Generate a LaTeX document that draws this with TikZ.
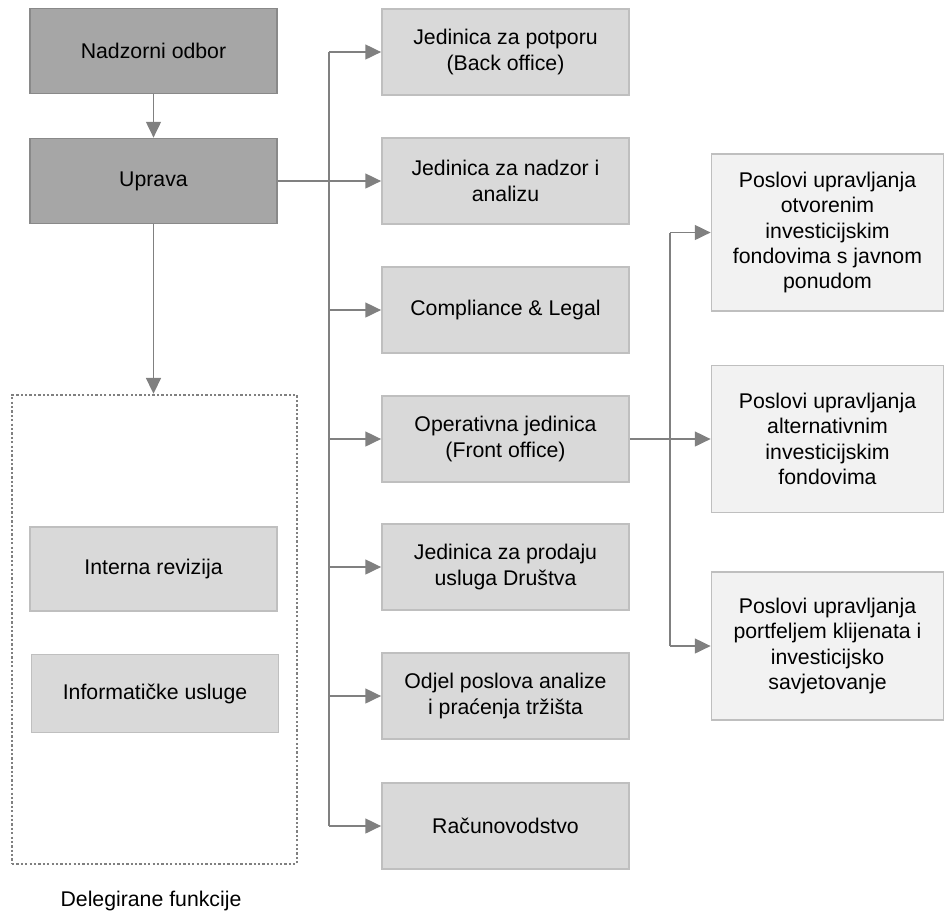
\documentclass[tikz,border=0pt]{standalone}
\usepackage{fontspec}
\setmainfont{Liberation Sans}
\usetikzlibrary{arrows.meta}
\definecolor{bossfill}{HTML}{A6A6A6}
\definecolor{bossline}{HTML}{898989}
\definecolor{unitfill}{HTML}{D9D9D9}
\definecolor{unitline}{HTML}{BFBFBF}
\definecolor{fundfill}{HTML}{F2F2F2}
\definecolor{arrowgray}{HTML}{808080}

\begin{document}
\begin{tikzpicture}[
	font=\fontsize{12.1}{14.4}\selectfont,
	boss/.style={draw=bossline,fill=bossfill,line width=1pt,rectangle,minimum width=4.94cm,minimum height=1.7cm},
	unit/.style={draw=unitline,fill=unitfill,line width=1pt,rectangle,align=center,minimum width=4.94cm,minimum height=1.72cm},
	fund/.style={draw=unitline,fill=fundfill,line width=1pt,rectangle,align=center,minimum width=4.64cm},
	link/.style={draw=arrowgray,line width=0.9pt,-{Triangle[length=9pt,width=8.5pt]}},
	trunk/.style={draw=arrowgray,line width=0.9pt}]
		\useasboundingbox (0,0) rectangle (18.9,-18.2);

		% board and management
		\node[boss] (nadzor) at (3.07,-1.02) {Nadzorni odbor};
		\node[boss] (uprava) at (3.07,-3.62) {Uprava};

		% delegated functions
		\node[draw=arrowgray,line width=1.4pt,dash pattern=on 1.3pt off 1.2pt,minimum width=5.7cm,minimum height=9.38cm] (delegirane) at (3.09,-12.59) {};
		\node[unit,minimum height=1.68cm] (revizija) at (3.07,-11.38) {Interna revizija};
		\node[unit,minimum height=1.56cm] (informatika) at (3.1,-13.87) {Informatičke usluge};
		\node[anchor=base] (delegtekst) at (3.02,-18.12) {Delegirane funkcije};

		% organisational units
		\node[unit] (backoff) at (10.11,-1.04) {Jedinica za potporu\\(Back office)};
		\node[unit] (nadzan) at (10.11,-3.62) {Jedinica za nadzor i\\analizu};
		\node[unit] (compl) at (10.11,-6.2) {Compliance \& Legal};
		\node[unit] (frontoff) at (10.11,-8.78) {Operativna jedinica\\(Front office)};
		\node[unit] (prodaja) at (10.11,-11.34) {Jedinica za prodaju\\usluga Društva};
		\node[unit] (trziste) at (10.11,-13.92) {Odjel poslova analize\\i praćenja tržišta};
		\node[unit] (racun) at (10.11,-16.52) {Računovodstvo};

		% front office activities
		\node[fund,minimum height=3.14cm] (otvoreni) at (16.55,-4.65) {Poslovi upravljanja\\otvorenim\\investicijskim\\fondovima s javnom\\ponudom};
		\node[fund,minimum height=2.94cm] (alternativni) at (16.55,-8.78) {Poslovi upravljanja\\alternativnim\\investicijskim\\fondovima};
		\node[fund,minimum height=2.96cm] (portfelj) at (16.55,-12.92) {Poslovi upravljanja\\portfeljem klijenata i\\investicijsko\\savjetovanje};

		\coordinate (trunk) at (6.58,0);
		\coordinate (rtrunk) at (13.4,0);

		\draw[link] (nadzor) -- (uprava);
		\draw[link] (uprava) -- (uprava |- delegirane.north);
		\draw[link] (uprava) -- (nadzan);
		\draw[trunk] (trunk |- backoff) -- (trunk |- racun);
		\foreach \u in {backoff,compl,frontoff,prodaja,trziste,racun}
			\draw[link] (trunk |- \u) -- (\u);

		\draw[link] (frontoff) -- (alternativni);
		\draw[trunk] (rtrunk |- otvoreni) -- (rtrunk |- portfelj);
		\draw[link] (rtrunk |- otvoreni) -- (otvoreni);
		\draw[link] (rtrunk |- portfelj) -- (portfelj);
	\end{tikzpicture}
\end{document}
